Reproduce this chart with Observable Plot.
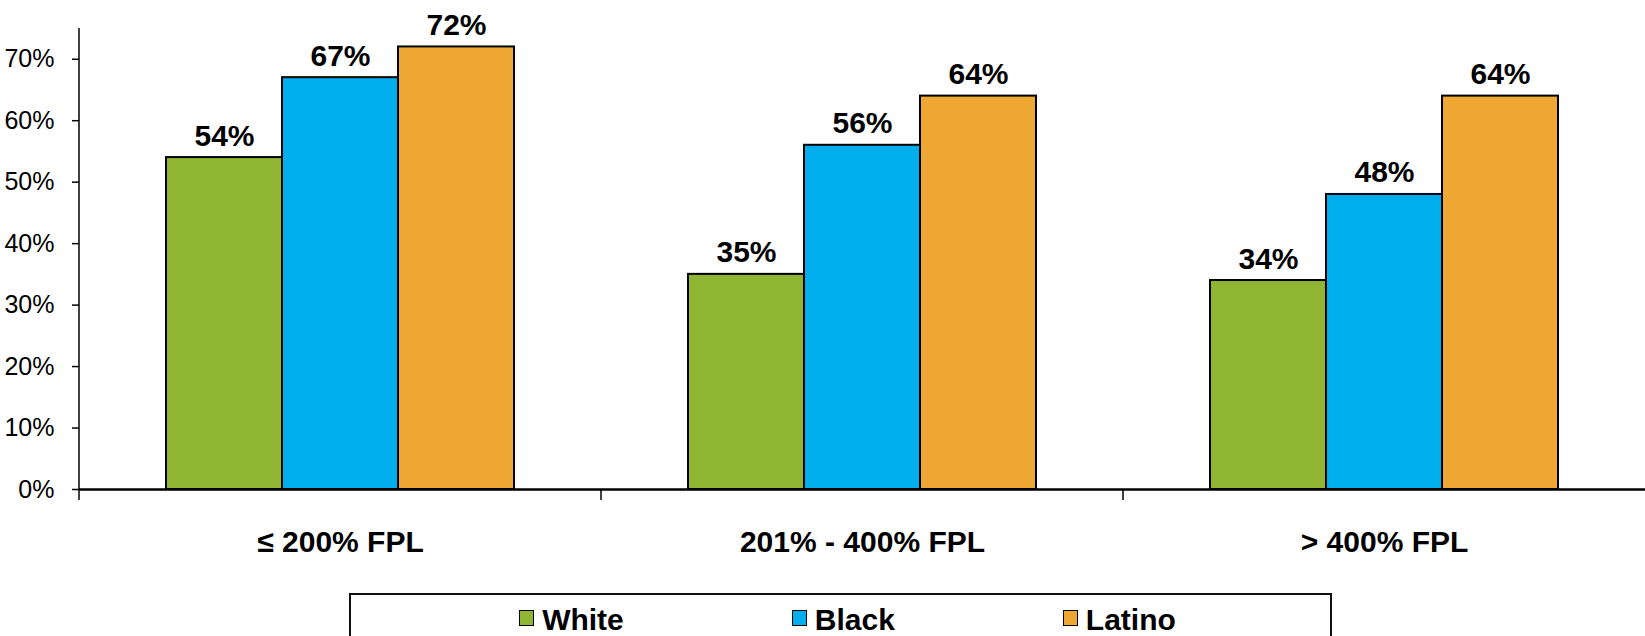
<!DOCTYPE html>
<html>
<head>
<meta charset="utf-8">
<script src="https://cdn.jsdelivr.net/npm/d3@7"></script>
<script src="https://cdn.jsdelivr.net/npm/@observablehq/plot@0.6"></script>
<style>
  html, body { margin: 0; padding: 0; background: #fff; }
  body { width: 1645px; height: 636px; overflow: hidden; font-family: "Liberation Sans", Arial, sans-serif; }
  #chart svg { display: block; }
  .legend {
    box-sizing: border-box;
    margin-left: 349px;
    width: 983px;
    height: 60px;
    border: 2px solid #111;
    padding: 10px 0 0 14px;
    display: flex;
    justify-content: center;
    gap: 168px;
    font: bold 30px/30px "Liberation Sans", Arial, sans-serif;
    color: #000;
  }
  .legend .item { display: flex; align-items: flex-start; white-space: nowrap; }
  .legend .swatch {
    box-sizing: border-box;
    width: 15px; height: 16px;
    border: 1.5px solid #000;
    margin: 5px 8px 0 0;
  }
</style>
</head>
<body>
<div id="chart"></div>
<script>
// Income groups (share of federal poverty level) and race/ethnicity series
const groups = ["\u2264 200% FPL", "201% - 400% FPL", "> 400% FPL"];
const races = ["White", "Black", "Latino"];
const colors = ["#8FB533", "#00AEEE", "#EEA733"];
const white = [54, 35, 34];
const black = [67, 56, 48];
const latino = [72, 64, 64];
const yTicks = [0, 10, 20, 30, 40, 50, 60, 70];
const yMax = 75;

const series = [white, black, latino];
const data = groups.flatMap((g, i) =>
  races.map((r, j) => ({group: g, race: r, value: series[j][i]}))
);

const plot = Plot.plot({
  width: 1645,
  height: 593,
  marginLeft: 79,
  marginRight: 0,
  marginTop: 28,
  marginBottom: 104,
  style: {background: "#fff", color: "#000"},
  fx: {domain: groups, padding: 0, label: null},
  x: {domain: races, paddingInner: 0, paddingOuter: 0.75, axis: null},
  y: {domain: [0, yMax], label: null},
  color: {domain: races, range: colors},
  marks: [
    Plot.axisY({
      ticks: yTicks,
      tickFormat: d => d + "%",
      tickSize: 7,
      tickPadding: 18,
      strokeWidth: 1.5,
      label: null,
      fontSize: 25,
      fontFamily: "'Liberation Sans Narrow', 'Arial Narrow', 'Liberation Sans', sans-serif"
    }),
    Plot.axisFx({
      anchor: "bottom",
      tickSize: 0,
      tickPadding: 41,
      label: null,
      fontSize: 30,
      fontWeight: "bold",
      fontFamily: "'Liberation Sans', Arial, sans-serif"
    }),
    Plot.barY(data, {
      fx: "group",
      x: "race",
      y: "value",
      fill: "race",
      stroke: "#000",
      strokeWidth: 2
    }),
    Plot.text(data, {
      fx: "group",
      x: "race",
      y: "value",
      text: d => d.value + "%",
      lineAnchor: "bottom",
      dy: -12,
      fontSize: 30,
      fontWeight: "bold",
      fontFamily: "'Liberation Sans', Arial, sans-serif",
      fill: "#000"
    }),
    Plot.ruleY([0], {stroke: "#000", strokeWidth: 2.7})
  ]
});

// Value axis line and category divider ticks below the baseline
{
  const fx = plot.scale("fx");
  const y = plot.scale("y");
  const y0 = y.apply(0);
  const left = fx.apply(groups[0]);
  const g = d3.select(plot).append("g")
    .attr("stroke", "#000")
    .attr("stroke-width", 1.5);
  g.append("line")
    .attr("x1", left).attr("x2", left)
    .attr("y1", y.apply(yMax)).attr("y2", y0);
  g.selectAll("line.div")
    .data(groups)
    .join("line")
    .attr("class", "div")
    .attr("x1", d => fx.apply(d))
    .attr("x2", d => fx.apply(d))
    .attr("y1", y0)
    .attr("y2", y0 + 11);
}

document.getElementById("chart").append(plot);

// Legend box below the chart
const legend = document.createElement("div");
legend.className = "legend";
races.forEach((r, i) => {
  const item = document.createElement("div");
  item.className = "item";
  const sw = document.createElement("span");
  sw.className = "swatch";
  sw.style.background = colors[i];
  const label = document.createElement("span");
  label.textContent = r;
  item.append(sw, label);
  legend.append(item);
});
document.body.append(legend);
</script>
</body>
</html>
